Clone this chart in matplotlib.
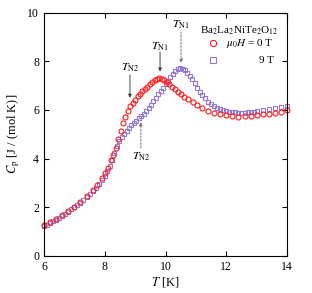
import matplotlib
matplotlib.use("Agg")
import matplotlib.pyplot as plt

plt.rcParams['font.family'] = ['Liberation Serif', 'DejaVu Serif']
plt.rcParams['mathtext.fontset'] = 'stix'

# 0 T data (red circles)
t_0T = [6.0, 6.2, 6.4, 6.6, 6.8, 7.0, 7.2, 7.4, 7.6, 7.75, 7.9, 8.0, 8.1, 8.2,
        8.28, 8.36, 8.44, 8.52, 8.6, 8.68, 8.76, 8.84, 8.92, 9.0, 9.08, 9.16,
        9.24, 9.32, 9.4, 9.48, 9.56, 9.64, 9.72, 9.8, 9.88, 9.96, 10.04, 10.12,
        10.2, 10.3, 10.4, 10.5, 10.62, 10.75, 10.9, 11.05, 11.2, 11.4, 11.6,
        11.8, 12.0, 12.2, 12.4, 12.6, 12.8, 13.0, 13.2, 13.4, 13.6, 13.8, 14.0]
cp_0T = [1.25, 1.38, 1.52, 1.68, 1.85, 2.02, 2.22, 2.45, 2.70, 2.92, 3.18, 3.40,
         3.62, 3.92, 4.15, 4.45, 4.80, 5.15, 5.45, 5.72, 5.95, 6.15, 6.30, 6.42,
         6.55, 6.66, 6.76, 6.86, 6.96, 7.05, 7.14, 7.22, 7.27, 7.30, 7.29, 7.24,
         7.15, 7.05, 6.96, 6.86, 6.75, 6.65, 6.53, 6.43, 6.31, 6.20, 6.06, 5.95,
         5.86, 5.81, 5.77, 5.74, 5.72, 5.73, 5.75, 5.78, 5.81, 5.85, 5.89, 5.93,
         5.98]

# 9 T data (purple squares)
t_9T = [6.0, 6.1, 6.2, 6.3, 6.4, 6.5, 6.6, 6.7, 6.8, 6.9, 7.0, 7.1, 7.2, 7.3,
        7.4, 7.5, 7.6, 7.7, 7.8, 7.9, 8.0, 8.08, 8.16, 8.24, 8.32, 8.4, 8.48,
        8.56, 8.64, 8.72, 8.8, 8.88, 8.96, 9.04, 9.12, 9.2, 9.28, 9.36, 9.44,
        9.52, 9.6, 9.68, 9.76, 9.84, 9.92, 10.0, 10.08, 10.16, 10.24, 10.32,
        10.4, 10.48, 10.56, 10.64, 10.72, 10.8, 10.88, 10.96, 11.04, 11.12,
        11.2, 11.3, 11.4, 11.5, 11.6, 11.7, 11.8, 11.9, 12.0, 12.1, 12.2, 12.3,
        12.4, 12.5, 12.6, 12.7, 12.8, 12.9, 13.0, 13.2, 13.4, 13.6, 13.8, 14.0]
cp_9T = [1.22, 1.28, 1.35, 1.42, 1.49, 1.57, 1.65, 1.73, 1.82, 1.91, 2.00, 2.09,
         2.19, 2.30, 2.41, 2.53, 2.66, 2.80, 2.95, 3.12, 3.30, 3.48, 3.70, 3.95,
         4.22, 4.50, 4.72, 4.90, 5.02, 5.15, 5.27, 5.37, 5.46, 5.56, 5.65, 5.74,
         5.84, 5.96, 6.08, 6.22, 6.36, 6.50, 6.64, 6.78, 6.92, 7.06, 7.20, 7.34,
         7.47, 7.58, 7.67, 7.71, 7.69, 7.62, 7.52, 7.40, 7.26, 7.10, 6.92, 6.74,
         6.60, 6.47, 6.34, 6.24, 6.16, 6.09, 6.03, 5.99, 5.96, 5.93, 5.91, 5.90,
         5.89, 5.89, 5.89, 5.90, 5.91, 5.92, 5.94, 5.98, 6.02, 6.06, 6.10, 6.14]

red = '#ff1a1a'
purple = '#9478d6'

fig = plt.figure(figsize=(3.12, 2.93), dpi=100)
ax = fig.add_axes([0.141, 0.127, 0.779, 0.830])

ax.plot(t_9T, cp_9T, 's', mfc='none', mec=purple, ms=3.4, mew=0.8, clip_on=False)
ax.plot(t_0T, cp_0T, 'o', mfc='none', mec=red, ms=3.6, mew=0.8, clip_on=False)

ax.set_xlim(6, 14)
ax.set_ylim(0, 10)
ax.set_xticks([6, 8, 10, 12, 14])
ax.set_yticks([0, 2, 4, 6, 8, 10])
ax.tick_params(direction='in', top=True, right=True, length=3.5, width=0.8,
               labelsize=8.5)
for s in ax.spines.values():
    s.set_linewidth(0.8)

ax.set_xlabel(r'$T$ [K]', fontsize=9, labelpad=2)
ax.set_ylabel(r'$C_{\rm p}$ [J / (mol K)]', fontsize=9, labelpad=4)

# transition arrows
solid = dict(arrowstyle='-|>', color='#444444', lw=0.7, mutation_scale=5,
             shrinkA=0, shrinkB=0)
dashed = dict(arrowstyle='-|>', color='#777777', lw=0.7, mutation_scale=5,
              linestyle=(0, (2, 1.5)), shrinkA=0, shrinkB=0)
ax.annotate('', xy=(9.82, 7.57), xytext=(9.82, 8.38), arrowprops=solid)
ax.text(9.82, 8.6, r'$T_{\rm N1}$', ha='center', va='center', fontsize=8.5)
ax.annotate('', xy=(10.51, 7.93), xytext=(10.51, 9.2), arrowprops=dashed)
ax.text(10.51, 9.5, r'$T_{\rm N1}$', ha='center', va='center', fontsize=8.5)
ax.annotate('', xy=(8.83, 6.49), xytext=(8.83, 7.44), arrowprops=solid)
ax.text(8.83, 7.72, r'$T_{\rm N2}$', ha='center', va='center', fontsize=8.5)
ax.annotate('', xy=(9.19, 5.5), xytext=(9.19, 4.43), arrowprops=dashed)
ax.text(9.19, 4.06, r'$T_{\rm N2}$', ha='center', va='center', fontsize=8.5)

# legend drawn by hand
ax.text(0.805, 0.925, r'Ba$_2$La$_2$NiTe$_2$O$_{12}$', transform=ax.transAxes,
        ha='center', va='center', fontsize=8)
ax.plot([0.695], [0.873], 'o', mfc='none', mec=red, ms=4.5, mew=0.8,
        transform=ax.transAxes)
ax.plot([0.695], [0.805], 's', mfc='none', mec=purple, ms=4.5, mew=0.8,
        transform=ax.transAxes)
ax.text(0.945, 0.873, r'$\mu_0 H$ = 0 T', transform=ax.transAxes,
        ha='right', va='center', fontsize=8)
ax.text(0.945, 0.805, '9 T', transform=ax.transAxes,
        ha='right', va='center', fontsize=8)

fig.savefig('out.png', dpi=100)
